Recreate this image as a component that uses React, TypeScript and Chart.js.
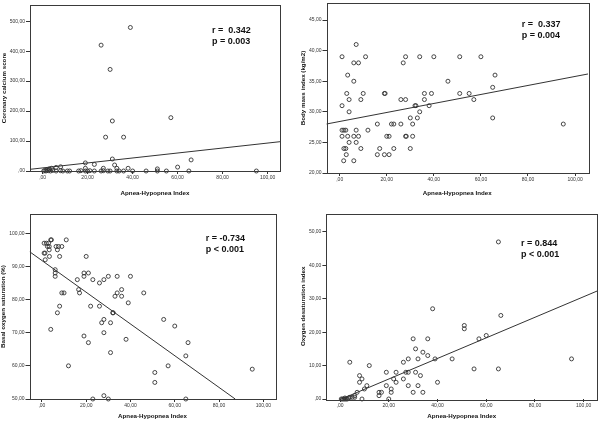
import React, { useEffect, useRef } from "react";
import { Chart, registerables } from "chart.js";

Chart.register(...registerables);

// ---------------- data ----------------
const xTicks = [0, 20, 40, 60, 80, 100];
const xMin = -5.6;
const xMax = 105.5;
const xTitle = "Apnea-Hypopnea Index";

// Coronary calcium score vs AHI
const cacX = [39, 26, 30, 31, 57, 28, 36, 31, 66, 19, 23, 32, 60, 38, 27, 33, 51, 19, 8, 6, 4, 3, 0.5, 1, 1.5, 2, 2.5, 3, 3.5, 4.5, 6, 8, 9, 11, 12, 16, 17, 19, 20, 21, 23, 26, 27, 29, 30, 33, 34, 36, 40, 46, 51, 55, 65, 95];
const cacY = [479, 420, 339, 167, 178, 113, 113, 40, 37, 27, 22, 20, 13, 9, 9, 9, 7, 9, 14, 12, 9, 7, 0, 2, 0, 3, 1, 4, 0, 2, 0, 1, 0, 0, 0, 0, 1, 0, 0, 1, 0, 0, 1, 0, 0, 0, 0, 0, 0, 0, 0, 0, 0, 0];
const cacFitX = [-5.6, 105.5];
const cacFitY = [5.6, 97.8];
const cacTicks = [0, 100, 200, 300, 400, 500];
const cacStats = ["r =  0.342", "p = 0.003"];

// Body mass index vs AHI
const bmiX = [7, 1, 11, 28, 34, 40, 51, 60, 6, 8, 27, 3.4, 66, 6, 46, 65, 3, 10, 19, 19.3, 36, 39, 51, 55, 4, 9, 26, 28, 36, 57, 1, 32, 32.4, 38, 4, 34, 30, 33, 65, 16, 22, 23, 26, 31, 95, 1, 1.8, 2.6, 7, 12, 1, 3.4, 6, 8, 20, 21, 28, 28.3, 31, 4, 7, 1.8, 2.6, 9, 17, 23, 30, 2.8, 16, 19, 21, 1.7, 6];
const bmiY = [41, 39, 39, 39, 39, 39, 39, 39, 38, 38, 38, 36, 36, 35, 35, 34, 33, 33, 33, 33, 33, 33, 33, 33, 32, 32, 32, 32, 32, 32, 31, 31, 31, 31, 30, 30, 29, 29, 29, 28, 28, 28, 28, 28, 28, 27, 27, 27, 27, 27, 26, 26, 26, 26, 26, 26, 26, 26, 26, 25, 25, 24, 24, 24, 24, 24, 24, 23, 23, 23, 23, 22, 22];
const bmiFitX = [-5.7, 105.7];
const bmiFitY = [28.0, 36.2];
const bmiTicks = [20, 25, 30, 35, 40, 45];
const bmiStats = ["r =  0.337", "p = 0.004"];

// Basal oxygen saturation vs AHI
const spoX = [1, 2, 2.5, 3, 4, 4.3, 11, 1, 1.4, 3.3, 3.3, 6.4, 7.5, 9, 7, 1.5, 3.4, 8, 6, 6, 6, 9, 10, 8, 7, 4, 12, 20, 16, 16.6, 17, 19, 21, 19, 23, 22, 19, 21, 26, 28, 30, 34, 40, 36, 34, 33, 36, 39, 46, 26, 28, 27, 32, 32.2, 31, 28, 31, 38, 55, 60, 66, 65, 57, 51, 51, 95, 23, 28, 30, 65];
const spoY = [97, 97, 96, 97, 98, 98, 98, 94, 94, 95, 96, 96, 96, 96, 95, 92, 93, 93, 89, 88, 87, 82, 82, 78, 76, 71, 60, 93, 86, 83, 82, 88, 88, 87, 86, 78, 69, 67, 85, 86, 87, 87, 87, 83, 82, 81, 81, 79, 82, 78, 74, 73, 76, 76, 73, 70, 64, 68, 74, 72, 67, 63, 60, 58, 55, 59, 50, 51, 50, 50];
const spoFitX = [-5.5, 87.3];
const spoFitY = [94.4, 50];
const spoTicks = [50, 60, 70, 80, 90, 100];
const spoStats = ["r = -0.734", "p < 0.001"];

// Oxygen desaturation index vs AHI
const odiX = [65, 38, 66, 51, 51, 60, 57, 30, 36, 31, 34, 36, 28, 32, 39, 46, 95, 26, 4, 12, 55, 65, 19, 23, 27, 28, 31, 8, 9, 33, 26, 22, 23, 40, 8, 11, 19, 28, 32, 21, 10, 30, 34, 16, 17, 21, 7, 16, 6, 20, 9, 0.5, 1, 1.5, 2, 2.5, 3, 3.5, 4, 5, 6, 2];
const odiY = [47, 27, 25, 22, 21, 19, 18, 18, 18, 15, 14, 13, 12, 12, 12, 12, 12, 11, 11, 10, 9, 9, 8, 8, 8, 8, 8, 7, 6, 7, 6, 6, 5, 5, 5, 4, 4, 4, 4, 3, 3, 2, 2, 2, 2, 2, 2, 1, 1, 0, 0, 0, 0, 0, 0, 0, 0, 0.3, 0.5, 0.5, 0.5, 0.3];
const odiFitX = [-5.6, 105.5];
const odiFitY = [-1.9, 32.3];
const odiTicks = [0, 10, 20, 30, 40, 50];
const odiStats = ["r = 0.844", "p < 0.001"];

// ---------------- styling / layout ----------------
const FONT = '"Liberation Sans", Arial, Helvetica, sans-serif';
const INK = "#333333";

const fmt = (v: number) => (v === 0 ? ",00" : v.toFixed(2).replace(".", ","));

type Panel = {
  box: { left: number; top: number; width: number; height: number };
  frame: { l: number; t: number; r: number; b: number };
  yMin: number;
  yMax: number;
  yTicks: number[];
  yTitle: string;
  xs: number[];
  ys: number[];
  fitX: number[];
  fitY: number[];
  stats: string[];
  statsAt: { x: number; y: number };
  yTitlePad: number;
  xTitlePad: number;
};

const panels: Panel[] = [
  {
    box: { left: 0, top: 0, width: 300, height: 210 },
    frame: { l: 30, t: 5, r: 280, b: 171 },
    yMin: 0, yMax: 554, yTicks: cacTicks, yTitle: "Coronary calcium score",
    xs: cacX, ys: cacY, fitX: cacFitX, fitY: cacFitY, stats: cacStats,
    statsAt: { x: 212, y: 31 }, yTitlePad: 0.9, xTitlePad: 13.3,
  },
  {
    box: { left: 296, top: 0, width: 304, height: 210 },
    frame: { l: 326.5, t: 1, r: 588, b: 173 },
    yMin: 20, yMax: 47.8, yTicks: bmiTicks, yTitle: "Body mass index (kg/m2)",
    xs: bmiX, ys: bmiY, fitX: bmiFitX, fitY: bmiFitY, stats: bmiStats,
    statsAt: { x: 225.7, y: 25 }, yTitlePad: 3.9, xTitlePad: 13.3,
  },
  {
    box: { left: 0, top: 210, width: 300, height: 212 },
    frame: { l: 29.5, t: 214, r: 275.5, b: 399 },
    yMin: 50, yMax: 105.8, yTicks: spoTicks, yTitle: "Basal oxygen saturation (%)",
    xs: spoX, ys: spoY, fitX: spoFitX, fitY: spoFitY, stats: spoStats,
    statsAt: { x: 205.7, y: 28.3 }, yTitlePad: 0, xTitlePad: 2.3,
  },
  {
    box: { left: 296, top: 210, width: 304, height: 212 },
    frame: { l: 326.4, t: 213.5, r: 598, b: 399 },
    yMin: 0, yMax: 55.5, yTicks: odiTicks, yTitle: "Oxygen desaturation index",
    xs: odiX, ys: odiY, fitX: odiFitX, fitY: odiFitY, stats: odiStats,
    statsAt: { x: 225, y: 33.3 }, yTitlePad: 3.9, xTitlePad: 2.3,
  },
];

const spssPlugin = {
  id: "spss",
  afterDraw(chart: any, _args: any, opts: any) {
    const { ctx, chartArea: a } = chart;
    ctx.save();
    ctx.strokeStyle = "#3a3a3a";
    ctx.lineWidth = 1;
    ctx.strokeRect(
      Math.round(a.left) + 0.5,
      Math.round(a.top) + 0.5,
      Math.round(a.right - a.left),
      Math.round(a.bottom - a.top)
    );
    if (opts && opts.lines) {
      ctx.fillStyle = "#111111";
      ctx.font = `bold 9px ${FONT}`;
      ctx.textBaseline = "middle";
      ctx.textAlign = "left";
      (opts.lines as string[]).forEach((t, i) => ctx.fillText(t, opts.x, opts.y + i * opts.gap));
    }
    ctx.restore();
  },
};

function PanelChart({ p }: { p: Panel }) {
  const ref = useRef<HTMLCanvasElement | null>(null);

  useEffect(() => {
    if (!ref.current) return;
    const yAxisW = p.frame.l - p.box.left;
    const xAxisH = p.box.top + p.box.height - p.frame.b;
    const padTop = p.frame.t - p.box.top;
    const padRight = p.box.left + p.box.width - p.frame.r;

    const chart = new Chart(ref.current, {
      type: "scatter",
      data: {
        datasets: [
          {
            type: "scatter",
            data: p.xs.map((x, i) => ({ x, y: p.ys[i] })),
            pointRadius: 2,
            pointHoverRadius: 2,
            pointBorderWidth: 0.9,
            pointBorderColor: INK,
            pointBackgroundColor: "rgba(0,0,0,0)",
            showLine: false,
            clip: false as any,
          } as any,
          {
            type: "line",
            data: p.fitX.map((x, i) => ({ x, y: p.fitY[i] })),
            borderColor: INK,
            borderWidth: 1,
            pointRadius: 0,
            fill: false,
            tension: 0,
          } as any,
        ],
      },
      options: {
        animation: false,
        responsive: false,
        maintainAspectRatio: false,
        devicePixelRatio: 1,
        events: [],
        layout: { padding: { top: padTop, right: padRight, left: 0, bottom: 0 } },
        plugins: {
          legend: { display: false },
          tooltip: { enabled: false },
          spss: { lines: p.stats, x: p.statsAt.x, y: p.statsAt.y, gap: 11 },
        } as any,
        scales: {
          x: {
            type: "linear",
            min: xMin,
            max: xMax,
            afterBuildTicks: (s: any) => {
              s.ticks = xTicks.map((v) => ({ value: v }));
            },
            afterFit: (s: any) => {
              s.height = xAxisH;
              s.paddingLeft = 0;
              s.paddingRight = 0;
            },
            grid: { display: true, drawOnChartArea: false, drawTicks: true, tickLength: 3, color: INK, lineWidth: 1 },
            border: { display: false },
            ticks: {
              autoSkip: false,
              maxRotation: 0,
              minRotation: 0,
              padding: 1,
              color: INK,
              font: { family: FONT, size: 5, lineHeight: 1 },
              callback: (v: any) => fmt(Number(v)),
            },
            title: {
              display: true,
              text: xTitle,
              color: "#111111",
              font: { family: FONT, size: 6.2, weight: "bold", lineHeight: 1 },
              padding: { top: 0, bottom: p.xTitlePad },
            },
          },
          y: {
            type: "linear",
            min: p.yMin,
            max: p.yMax,
            afterBuildTicks: (s: any) => {
              s.ticks = p.yTicks.map((v) => ({ value: v }));
            },
            afterFit: (s: any) => {
              s.width = yAxisW;
              s.paddingTop = 0;
              s.paddingBottom = 0;
            },
            grid: { display: true, drawOnChartArea: false, drawTicks: true, tickLength: 4, color: INK, lineWidth: 1 },
            border: { display: false },
            ticks: {
              autoSkip: false,
              padding: 1,
              color: INK,
              font: { family: FONT, size: 5, lineHeight: 1 },
              callback: (v: any) => fmt(Number(v)),
            },
            title: {
              display: true,
              text: p.yTitle,
              color: "#111111",
              font: { family: FONT, size: 6.2, weight: "bold", lineHeight: 1 },
              padding: { top: p.yTitlePad, bottom: 0 },
            },
          },
        },
      } as any,
      plugins: [spssPlugin],
    });
    return () => chart.destroy();
  }, [p]);

  return (
    <div
      style={{
        position: "absolute",
        left: p.box.left,
        top: p.box.top,
        width: p.box.width,
        height: p.box.height,
      }}
    >
      <canvas
        ref={ref}
        width={p.box.width}
        height={p.box.height}
        style={{ display: "block", width: p.box.width, height: p.box.height }}
      />
    </div>
  );
}

export default function App() {
  return (
    <div
      style={{
        position: "absolute",
        left: 0,
        top: 0,
        width: 600,
        height: 422,
        background: "#ffffff",
        overflow: "hidden",
      }}
    >
      {panels.map((p, i) => (
        <PanelChart key={i} p={p} />
      ))}
    </div>
  );
}
